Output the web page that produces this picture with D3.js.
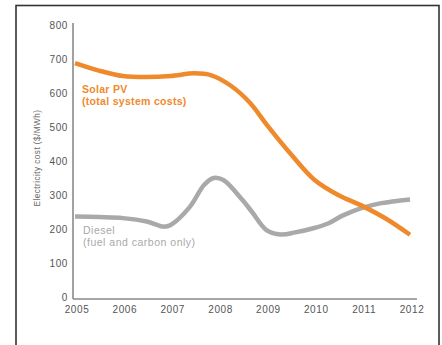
<!DOCTYPE html>
<html>
<head>
<meta charset="utf-8">
<script src="https://cdn.jsdelivr.net/npm/d3@7"></script>
<style>
  html, body { margin: 0; padding: 0; background: #fff; }
  svg { display: block; }
</style>
</head>
<body>
<svg id="chart" width="442" height="345"></svg>
<script>
// Electricity cost, $/MWh
const solarYears  = [2005, 2005.5, 2006, 2006.5, 2007, 2007.5, 2007.85, 2008.25, 2008.65, 2009, 2009.5, 2010, 2010.5, 2011, 2011.5, 2012];
const solarValues = [688, 666, 650, 647, 650, 658, 652, 622, 572, 508, 422, 345, 300, 268, 230, 183];

const dieselYears  = [2005, 2005.5, 2006, 2006.5, 2006.85, 2007, 2007.4, 2007.7, 2007.9, 2008.1, 2008.5, 2008.7, 2009, 2009.3, 2009.6, 2010, 2010.3, 2010.6, 2011, 2011.4, 2012];
const dieselValues = [237, 235, 232, 222, 207, 212, 265, 330, 350, 344, 285, 250, 197, 184, 190, 203, 217, 240, 262, 276, 287];

const xTicks = [2005, 2006, 2007, 2008, 2009, 2010, 2011, 2012];
const yTicks = [0, 100, 200, 300, 400, 500, 600, 700, 800];

const svg = d3.select("#chart");
const font = "Liberation Sans, Arial, Helvetica, sans-serif";

// outer frame
svg.append("rect")
  .attr("x", 16).attr("y", 5.5)
  .attr("width", 423).attr("height", 360)
  .attr("fill", "none").attr("stroke", "#333").attr("stroke-width", 1.6);

const x = d3.scaleLinear().domain([2005, 2012]).range([75, 410]);
const y = d3.scaleLinear().domain([0, 800]).range([297, 25]);

// axes lines
svg.append("line")
  .attr("x1", 73).attr("x2", 73).attr("y1", 23).attr("y2", 299)
  .attr("stroke", "#8a8a8a").attr("stroke-width", 1.6);
svg.append("line")
  .attr("x1", 73).attr("x2", 417).attr("y1", 299).attr("y2", 299)
  .attr("stroke", "#8a8a8a").attr("stroke-width", 1.6);

// y tick labels
svg.append("g").selectAll("text").data(yTicks).join("text")
  .attr("x", 68).attr("y", d => y(d) + 3.5)
  .attr("text-anchor", "end")
  .attr("font-family", font).attr("font-size", 10).attr("letter-spacing", 0.6)
  .attr("fill", "#555")
  .text(d => d);

// x tick labels
svg.append("g").selectAll("text").data(xTicks).join("text")
  .attr("x", d => x(d) + 2).attr("y", 313)
  .attr("text-anchor", "middle")
  .attr("font-family", font).attr("font-size", 10).attr("letter-spacing", 0.6)
  .attr("fill", "#555")
  .text(d => d);

// y axis title
svg.append("text")
  .attr("transform", "translate(40,158) rotate(-90)")
  .attr("text-anchor", "middle")
  .attr("font-family", font).attr("font-size", 8.2).attr("letter-spacing", 0.45)
  .attr("fill", "#666")
  .text("Electricity cost ($/MWh)");

const line = d3.line()
  .x(d => x(d[0]))
  .y(d => y(d[1]))
  .curve(d3.curveCatmullRom.alpha(0.5));

svg.append("path")
  .datum(d3.zip(dieselYears, dieselValues))
  .attr("d", line)
  .attr("fill", "none").attr("stroke", "#a9a9a9")
  .attr("stroke-width", 4.5).attr("stroke-linecap", "butt");

svg.append("path")
  .datum(d3.zip(solarYears, solarValues))
  .attr("d", line)
  .attr("fill", "none").attr("stroke", "#ef8a2c")
  .attr("stroke-width", 4.5).attr("stroke-linecap", "butt");

// series labels
const solarLabel = svg.append("text")
  .attr("font-family", font).attr("font-size", 10.5).attr("font-weight", "bold")
  .attr("letter-spacing", 0.3)
  .attr("fill", "#ef8a2c");
solarLabel.append("tspan").attr("x", 82).attr("y", 93).text("Solar PV");
solarLabel.append("tspan").attr("x", 82).attr("y", 105).text("(total system costs)");

const dieselLabel = svg.append("text")
  .attr("font-family", font).attr("font-size", 10.5).attr("letter-spacing", 0.5)
  .attr("fill", "#a9a9a9");
dieselLabel.append("tspan").attr("x", 83).attr("y", 234).text("Diesel");
dieselLabel.append("tspan").attr("x", 83).attr("y", 246).text("(fuel and carbon only)");
</script>
</body>
</html>
